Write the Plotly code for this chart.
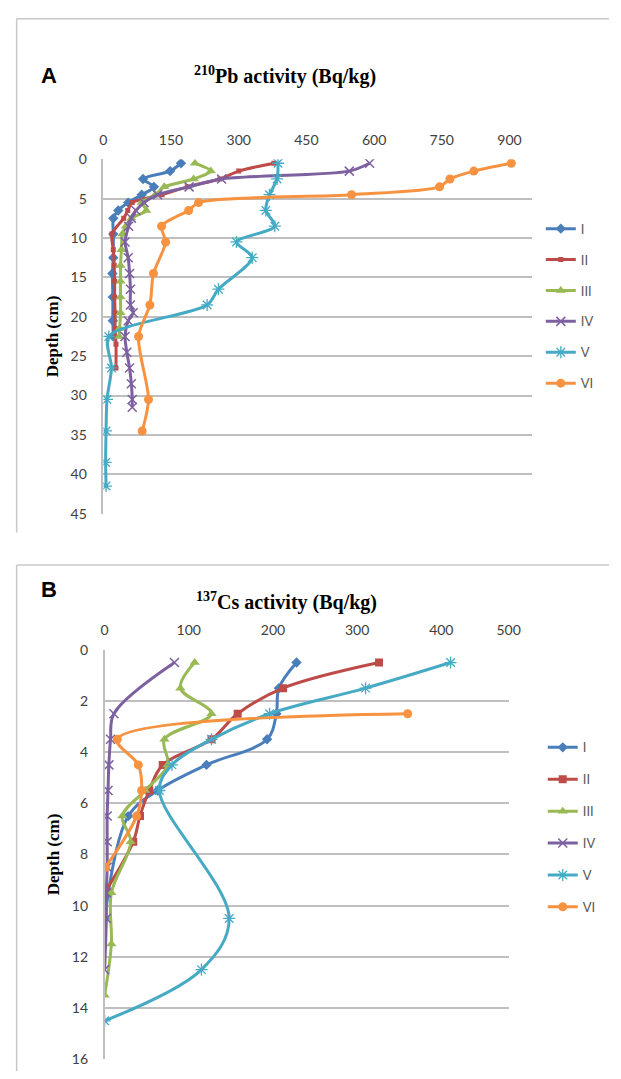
import plotly.graph_objects as go

W, H = 621, 1079

# ---------------- Panel A: 210Pb activity (Bq/kg) ----------------
a_I_depth = [0.5, 1.5, 2.5, 3.5, 4.5, 5.5, 6.5, 7.5, 9.5, 12.5, 14.5, 17.5, 20.5, 22.5]
a_I_val = [172, 148, 88, 112, 85, 55, 33, 22, 22, 22, 20, 21, 21, 22]

a_II_depth = [0.5, 1.5, 2.5, 3.5, 4.5, 5.5, 6.5, 7.5, 9.5, 11.5, 13.5, 15.5, 17.5, 19.5, 21.5, 23.5, 26.5]
a_II_val = [378, 300, 258, 186, 130, 64, 54, 45, 19, 22, 24, 25, 25, 26, 26, 28, 28]

a_III_depth = [0.5, 1.5, 2.5, 3.5, 4.5, 5.5, 6.5, 7.5, 8.5, 9.5, 11.5, 13.5, 15.5, 17.5, 19.5, 21.5, 22.5]
a_III_val = [203, 238, 200, 135, 115, 85, 95, 62, 50, 42, 40, 38, 38, 38, 38, 36, 35]

a_IV_depth = [0.5, 1.5, 2.5, 3.5, 4.5, 5.5, 6.5, 7.5, 8.5, 10.5, 12.5, 14.5, 16.5, 18.5, 19.5, 20.5,
              22.5, 24.5, 26.5, 28.5, 30.5, 31.5]
a_IV_val = [590, 545, 262, 190, 120, 90, 72, 62, 56, 48, 55, 58, 60, 60, 66, 55, 48, 52, 58, 62, 64, 64]

a_V_depth = [0.5, 2.5, 4.5, 6.5, 8.5, 10.5, 12.5, 16.5, 18.5, 22.5, 26.5, 30.5, 34.5, 38.5, 41.5]
a_V_val = [387, 385, 368, 360, 380, 295, 330, 255, 230, 12, 18, 8, 6, 5, 6]

a_VI_depth = [0.5, 1.5, 2.5, 3.5, 4.5, 5.5, 6.5, 8.5, 10.5, 14.5, 18.5, 22.5, 30.5, 34.5]
a_VI_val = [904, 821, 768, 745, 550, 211, 189, 129, 138, 111, 103, 78, 100, 86]

# ---------------- Panel B: 137Cs activity (Bq/kg) ----------------
b_I_depth = [0.5, 1.5, 2.5, 3.5, 4.5, 5.5, 6.5, 10.5]
b_I_val = [228, 207, 204, 193, 121, 63, 28, 0]

b_II_depth = [0.5, 1.5, 2.5, 3.5, 4.5, 5.5, 6.5, 7.5, 9.5]
b_II_val = [326, 212, 158, 127, 69, 53, 42, 34, 0]

b_III_depth = [0.5, 1.5, 2.5, 3.5, 4.5, 5.5, 6.5, 7.5, 9.5, 11.5, 13.5]
b_III_val = [107, 90, 127, 71, 75, 48, 21, 31, 8, 8, 0]

b_IV_depth = [0.5, 2.5, 3.5, 4.5, 5.5, 6.5, 7.5, 8.5, 9.5, 10.5, 12.5]
b_IV_val = [83, 11, 7, 5, 4, 3, 3, 3, 2, 2, 0]

b_V_depth = [0.5, 1.5, 2.5, 3.5, 4.5, 5.5, 10.5, 12.5, 14.5]
b_V_val = [411, 310, 196, 127, 80, 65, 148, 115, 0]

b_VI_depth = [2.5, 3.5, 4.5, 5.5, 6.5, 8.5]
b_VI_val = [360, 15, 40, 44, 38, 1]

series_names = ["I", "II", "III", "IV", "V", "VI"]
colors = ["#4A7EBB", "#BE4B48", "#98B954", "#7D60A0", "#46AAC5", "#F69240"]

a_x_ticks = [0, 150, 300, 450, 600, 750, 900]
a_y_ticks = [0, 5, 10, 15, 20, 25, 30, 35, 40, 45]
b_x_ticks = [0, 100, 200, 300, 400, 480]
b_x_ticktext = ["0", "100", "200", "300", "400", "500"]
b_y_ticks = [0, 2, 4, 6, 8, 10, 12, 14, 16]

a_data = [(a_I_val, a_I_depth), (a_II_val, a_II_depth), (a_III_val, a_III_depth),
          (a_IV_val, a_IV_depth), (a_V_val, a_V_depth), (a_VI_val, a_VI_depth)]
b_data = [(b_I_val, b_I_depth), (b_II_val, b_II_depth), (b_III_val, b_III_depth),
          (b_IV_val, b_IV_depth), (b_V_val, b_V_depth), (b_VI_val, b_VI_depth)]

a_markers = [
    dict(symbol="diamond", size=8),
    dict(symbol="square", size=5),
    dict(symbol="triangle-up", size=9),
    dict(symbol="x-thin-open", size=9, line=dict(width=1.5)),
    dict(symbol="asterisk-open", size=10, line=dict(width=1.3)),
    dict(symbol="circle", size=9),
]
b_markers = [
    dict(symbol="diamond", size=8),
    dict(symbol="square", size=8),
    dict(symbol="triangle-up", size=9),
    dict(symbol="x-thin-open", size=9, line=dict(width=1.5)),
    dict(symbol="asterisk-open", size=10, line=dict(width=1.3)),
    dict(symbol="circle", size=9),
]

fig = go.Figure()
for i, (vals, depth) in enumerate(a_data):
    m = dict(a_markers[i]); m["color"] = colors[i]
    if "line" in m:
        m["line"] = dict(m["line"], color=colors[i])
    fig.add_trace(go.Scatter(x=vals, y=depth, mode="lines+markers", name=series_names[i],
                             line=dict(color=colors[i], width=3, shape="spline", smoothing=0.8),
                             marker=m, xaxis="x", yaxis="y", legend="legend",
                             legendgroup="a" + series_names[i]))
for i, (vals, depth) in enumerate(b_data):
    m = dict(b_markers[i]); m["color"] = colors[i]
    if "line" in m:
        m["line"] = dict(m["line"], color=colors[i])
    fig.add_trace(go.Scatter(x=vals, y=depth, mode="lines+markers", name=series_names[i],
                             line=dict(color=colors[i], width=3, shape="spline", smoothing=1.0),
                             marker=m, xaxis="x2", yaxis="y2", legend="legend2",
                             legendgroup="b" + series_names[i]))

def px_x(p):
    return p / W

def px_y(p):
    return 1 - p / H

tick_font = dict(family="Lato, Open Sans, sans-serif", size=14, color="#404040")
grid_col = "#BFBFBF"

fig.update_layout(
    width=W, height=H, autosize=False,
    margin=dict(l=0, r=0, t=0, b=0),
    paper_bgcolor="white", plot_bgcolor="white",
    xaxis=dict(domain=[px_x(102), px_x(542)], range=[0, 950], side="top", anchor="y",
               tickvals=a_x_ticks, showgrid=False, zeroline=False, showline=False,
               ticks="outside", ticklen=8, tickcolor="rgba(0,0,0,0)", tickfont=tick_font),
    yaxis=dict(domain=[px_y(512.7), px_y(152.7)], range=[45, 0], anchor="x",
               tickvals=a_y_ticks, showgrid=True, gridcolor=grid_col, gridwidth=1.6,
               zeroline=False, showline=True, linecolor=grid_col, linewidth=1.6,
               ticks="outside", ticklen=12, tickcolor="rgba(0,0,0,0)", tickfont=tick_font,
               title=dict(text="<b>Depth (cm)</b>", standoff=8,
                          font=dict(family="Liberation Serif, serif", size=17, color="black"))),
    xaxis2=dict(domain=[px_x(103.3), px_x(518)], range=[0, 480], side="top", anchor="y2",
                tickvals=b_x_ticks, ticktext=b_x_ticktext, showgrid=False, zeroline=False,
                showline=False, ticks="outside", ticklen=8, tickcolor="rgba(0,0,0,0)",
                tickfont=tick_font),
    yaxis2=dict(domain=[px_y(1067), px_y(651)], range=[16, 0], anchor="x2",
                tickvals=b_y_ticks, showgrid=True, gridcolor=grid_col, gridwidth=1.6,
                zeroline=False, showline=True, linecolor=grid_col, linewidth=1.6,
                ticks="outside", ticklen=12, tickcolor="rgba(0,0,0,0)", tickfont=tick_font,
                title=dict(text="<b>Depth (cm)</b>", standoff=8,
                           font=dict(family="Liberation Serif, serif", size=17, color="black"))),
    legend=dict(x=px_x(551), y=px_y(208), xanchor="left", yanchor="top",
                font=dict(family="Lato, Open Sans, sans-serif", size=13, color="#595959"),
                tracegroupgap=11, bgcolor="rgba(0,0,0,0)"),
    legend2=dict(x=px_x(553), y=px_y(735), xanchor="left", yanchor="top",
                 font=dict(family="Lato, Open Sans, sans-serif", size=13, color="#595959"),
                 tracegroupgap=12, bgcolor="rgba(0,0,0,0)"),
    annotations=[
        dict(text="<b>A</b>", x=px_x(36), y=px_y(68), xref="paper", yref="paper",
             xanchor="left", yanchor="middle", showarrow=False,
             font=dict(family="Liberation Sans, Arial, sans-serif", size=22, color="black")),
        dict(text="<b><sup>210</sup>Pb activity (Bq/kg)</b>", x=px_x(288), y=px_y(68),
             xref="paper", yref="paper", xanchor="center", yanchor="middle", showarrow=False,
             font=dict(family="Liberation Serif, serif", size=20, color="black")),
        dict(text="<b>B</b>", x=px_x(36), y=px_y(590), xref="paper", yref="paper",
             xanchor="left", yanchor="middle", showarrow=False,
             font=dict(family="Liberation Sans, Arial, sans-serif", size=22, color="black")),
        dict(text="<b><sup>137</sup>Cs activity (Bq/kg)</b>", x=px_x(290), y=px_y(602),
             xref="paper", yref="paper", xanchor="center", yanchor="middle", showarrow=False,
             font=dict(family="Liberation Serif, serif", size=20, color="black")),
    ],
    shapes=[
        dict(type="line", xref="paper", yref="paper", x0=px_x(13), x1=1, y0=px_y(10), y1=px_y(10),
             line=dict(color="#C8C8C8", width=1.5)),
        dict(type="line", xref="paper", yref="paper", x0=px_x(13), x1=px_x(13), y0=px_y(10), y1=px_y(532),
             line=dict(color="#C8C8C8", width=1.5)),
        dict(type="line", xref="paper", yref="paper", x0=px_x(13), x1=1, y0=px_y(565), y1=px_y(565),
             line=dict(color="#C8C8C8", width=1.5)),
        dict(type="line", xref="paper", yref="paper", x0=px_x(13), x1=px_x(13), y0=px_y(565), y1=0,
             line=dict(color="#C8C8C8", width=1.5)),
    ],
)

fig.write_html("out.html", config={"displayModeBar": False},
               post_script="document.body.style.margin='0';document.body.style.padding='0';"
                           "document.body.style.overflow='hidden';")
